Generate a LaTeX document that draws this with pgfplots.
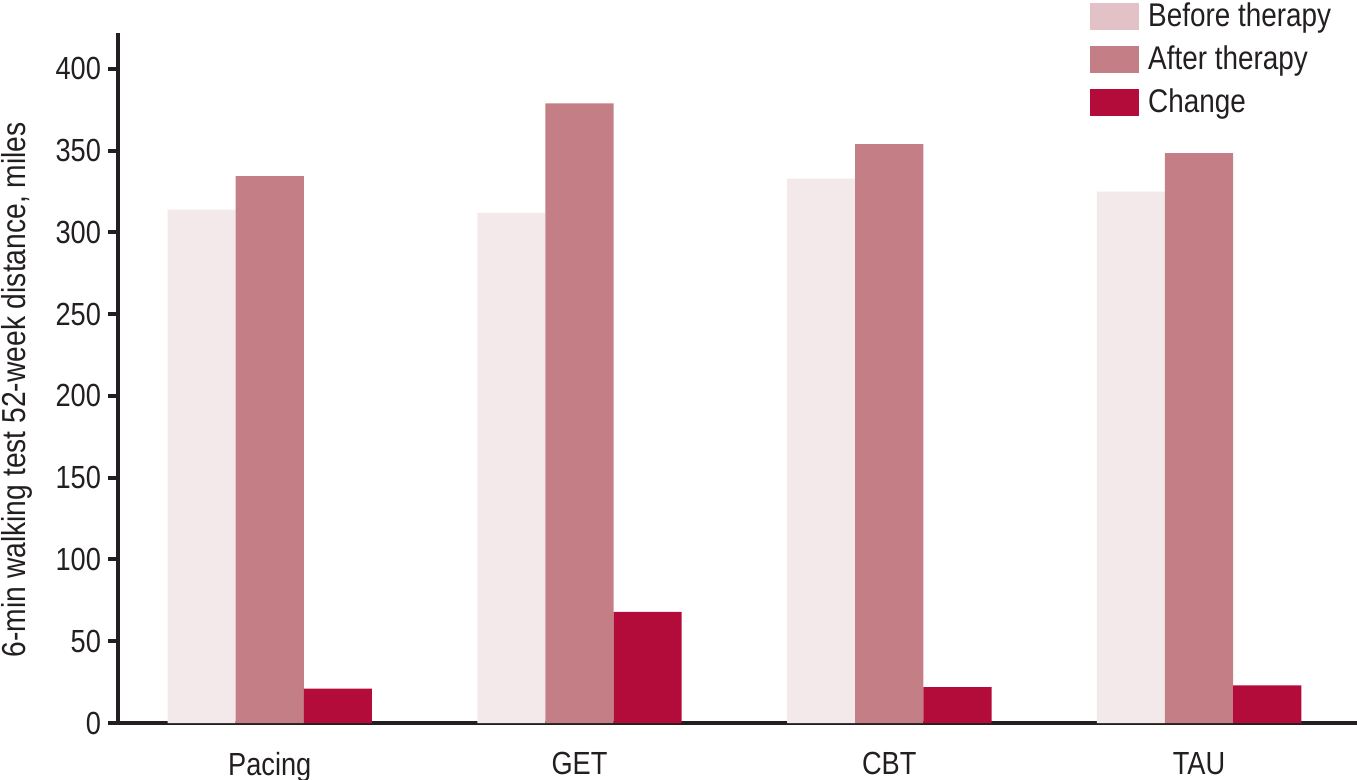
\documentclass[border=0pt]{standalone}
\usepackage{pgfplots}
\pgfplotsset{compat=1.18}
\usepackage{fontspec}
\setmainfont{Liberation Sans}[FakeStretch=0.85]
\setsansfont{Liberation Sans}[FakeStretch=0.85]

\definecolor{cbefore}{HTML}{F3E9EA}
\definecolor{cbeforeleg}{HTML}{E2C2C6}
\definecolor{cafter}{HTML}{C47E86}
\definecolor{cchange}{HTML}{B30B3A}
\definecolor{axdark}{HTML}{231F20}

\begin{document}
\begin{tikzpicture}
\begin{axis}[
    name=ax,
    scale only axis,
    width=619.5pt, height=345pt,
    xmin=-0.49, xmax=3.51,
    ymin=0, ymax=422,
    axis x line*=bottom,
    axis y line*=left,
    axis line style={line width=2pt, color=axdark},
    x axis line style={shorten <=-5pt},
    xtick={0,1,2,3},
    xticklabels={Pacing,GET,CBT,TAU},
    major x tick style={draw=none},
    ytick={0,50,...,400},
    tick align=outside,
    major tick length=5pt,
    major y tick style={line width=2pt, color=axdark},
    /pgf/number format/assume math mode=true,
    tick label style={font=\fontsize{16}{19}\selectfont, text=axdark},
    xticklabel style={yshift=-6pt},
    ylabel={6-min walking test 52-week distance, miles},
    ylabel style={at={(axis description cs:-0.0815,0.483)}, anchor=center,
        font=\fontsize{16.6}{20}\selectfont, text=axdark},
    ybar, bar width=0.22,
    legend style={at={(axis description cs:0.7845,1.049)}, anchor=north west,
        draw=none, fill=none, font=\fontsize{16.4}{19}\selectfont,
        row sep=5.2pt, inner sep=0pt,
        nodes={inner xsep=4.5pt, inner ysep=1.5pt, text=axdark}},
    legend cell align=left,
]
\addplot[fill=cbefore, draw=none, bar shift=-0.22, forget plot]
    coordinates {(0,314) (1,312) (2,333) (3,325)};
\addplot[fill=cafter, draw=none, bar shift=0, forget plot]
    coordinates {(0,334.5) (1,379) (2,354) (3,348.5)};
\addplot[fill=cchange, draw=none, bar shift=0.22, forget plot]
    coordinates {(0,21) (1,68) (2,22) (3,23)};

\addlegendimage{legend image code/.code={\fill[cbeforeleg] (-2.5pt,-6.5pt) rectangle (21.5pt,6.5pt);}}
\addlegendimage{legend image code/.code={\fill[cafter] (-2.5pt,-6.5pt) rectangle (21.5pt,6.5pt);}}
\addlegendimage{legend image code/.code={\fill[cchange] (-2.5pt,-6.5pt) rectangle (21.5pt,6.5pt);}}
\legend{Before therapy, After therapy, Change}
\end{axis}
\pgfresetboundingbox
\path ([xshift=-59pt,yshift=-28.5pt]ax.south west) rectangle ([yshift=16.5pt]ax.north east);
\end{tikzpicture}
\end{document}
